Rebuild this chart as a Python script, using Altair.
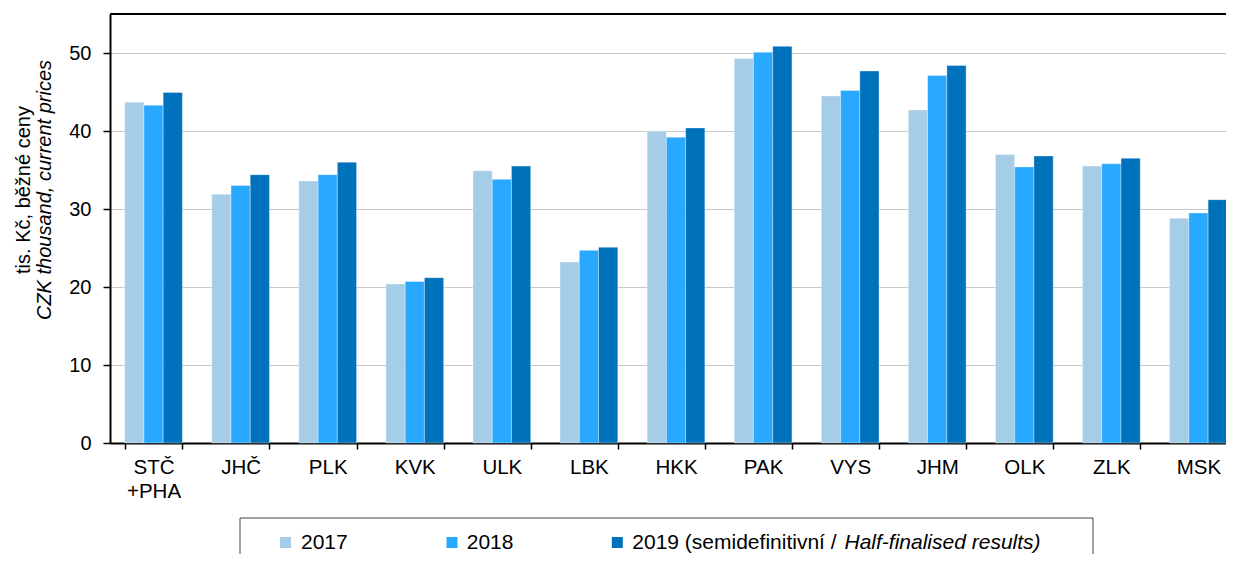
import altair as alt
import pandas as pd

regions = ["STČ\n+PHA", "JHČ", "PLK", "KVK", "ULK", "LBK", "HKK", "PAK", "VYS", "JHM", "OLK", "ZLK", "MSK"]
years = ["2017", "2018", "2019"]
v2017 = [43.7, 31.9, 33.6, 20.4, 34.9, 23.2, 40.0, 49.3, 44.5, 42.7, 37.0, 35.5, 28.8]
v2018 = [43.3, 33.0, 34.4, 20.7, 33.8, 24.7, 39.2, 50.1, 45.2, 47.1, 35.4, 35.8, 29.5]
v2019 = [44.95, 34.4, 36.0, 21.2, 35.5, 25.1, 40.4, 50.85, 47.7, 48.4, 36.8, 36.5, 31.2]
colors = ["#A6CDE7", "#29A8FF", "#0072BC"]
y_ticks = [0, 10, 20, 30, 40, 50]
title_line1 = "tis. Kč, běžné ceny"
title_line2 = "CZK thousand, current prices"
legend_labels = ["2017", "2018", "2019 (semidefinitivní / "]
legend_italic = "Half-finalised results)"

rows = []
for series, vals in zip(years, [v2017, v2018, v2019]):
    for r, v in zip(regions, vals):
        rows.append({"region": r, "year": series, "value": v})
df = pd.DataFrame(rows)

FONT = "Liberation Sans"
color_scale = alt.Scale(domain=years, range=colors)

bars = alt.Chart(df).mark_bar(stroke="white", strokeWidth=0.5, strokeOpacity=0.7).encode(
    x=alt.X("region:N", sort=regions,
            scale=alt.Scale(range=[0, 1132], paddingInner=0.337, paddingOuter=0.1685),
            axis=alt.Axis(title=None, labelAngle=0, tickBand="extent", tickSize=6, tickWidth=1.5,
                          tickColor="black", domainColor="black", domainWidth=2,
                          labelFont=FONT, labelFontSize=20.5, labelColor="black",
                          labelPadding=8, labelLineHeight=24, labelBaseline="top",
                          labelExpr="split(datum.label, '\\n')", grid=False)),
    xOffset=alt.XOffset("year:N", sort=years, scale=alt.Scale(paddingInner=0, paddingOuter=0)),
    y=alt.Y("value:Q", scale=alt.Scale(domain=[0, 55], nice=False),
            axis=alt.Axis(title=None, values=y_ticks, grid=True, gridColor="#C8C8C8", gridWidth=1,
                          domainColor="black", domainWidth=2, tickColor="black", tickSize=7,
                          tickWidth=1.5, labelFont=FONT, labelFontSize=20, labelColor="black",
                          labelPadding=12)),
    color=alt.Color("year:N", scale=color_scale, legend=None),
)

one = pd.DataFrame({"k": [0]})

top_frame = alt.Chart(one).mark_rule(color="black", strokeWidth=2).encode(
    x=alt.value(0), x2=alt.value(1140), y=alt.value(0))

t1 = alt.Chart(one).mark_text(text=title_line1, font=FONT, fontSize=20, angle=270,
                              align="center", baseline="alphabetic", color="black").encode(
    x=alt.value(-80), y=alt.value(176))
t2 = alt.Chart(one).mark_text(text=title_line2, font=FONT, fontSize=20, fontStyle="italic",
                              angle=270, align="center", baseline="alphabetic", color="black").encode(
    x=alt.value(-59), y=alt.value(176))

legend_box = alt.Chart(one).mark_rect(fill="white", stroke="#444444", strokeWidth=1).encode(
    x=alt.value(130), x2=alt.value(983), y=alt.value(504), y2=alt.value(600))

sym_x = [175.5, 342, 507.3]
txt_x = [191, 356.7, 522.3]
legend_layers = [legend_box]
for yr, sx, tx, lab in zip(years, sym_x, txt_x, legend_labels):
    legend_layers.append(
        alt.Chart(one).mark_point(shape="square", filled=True, size=121, opacity=1).encode(
            x=alt.value(sx), y=alt.value(528.5), color=alt.datum(yr)))
    legend_layers.append(
        alt.Chart(one).mark_text(text=lab, font=FONT, fontSize=21, align="left",
                                 baseline="alphabetic", color="black").encode(
            x=alt.value(tx), y=alt.value(535.3)))
legend_layers.append(
    alt.Chart(one).mark_text(text=legend_italic, font=FONT, fontSize=21, fontStyle="italic",
                             align="left", baseline="alphabetic", color="black").encode(
        x=alt.value(734.5), y=alt.value(535.3)))

chart = alt.layer(bars, top_frame, t1, t2, *legend_layers).properties(
    width=1116, height=429,
    autosize=alt.AutoSizeParams(type="none"),
    padding={"left": 102, "top": 6, "right": 0, "bottom": 111},
).configure_view(stroke=None)

chart.save("out.html", embed_options={"renderer": "svg", "actions": False})
